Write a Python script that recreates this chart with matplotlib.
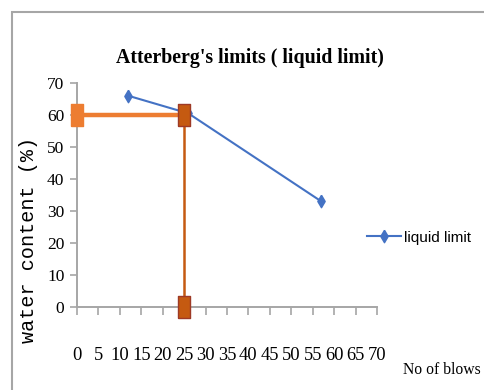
import matplotlib.pyplot as plt
from matplotlib.patches import Rectangle

# liquid limit test points (blows, water content %)
blows = [12, 26, 57]
water = [66, 60.5, 33]

# 25-blow reading
ll_blows = 25
ll_water = 60

xticks = list(range(0, 75, 5))
yticks = list(range(0, 80, 10))

# tall markers (the chart is drawn narrow)
tall_square = [(-1, -1.85), (1, -1.85), (1, 1.85), (-1, 1.85), (-1, -1.85)]
tall_diamond = [(0, 1.7), (1, 0), (0, -1.7), (-1, 0), (0, 1.7)]

fig = plt.figure(figsize=(4.84, 3.90), dpi=100)
ax = fig.add_axes([0.159, 0.2128, 0.62, 0.5744])

# outer frame
fig.patches.append(Rectangle((12 / 484, -0.05), 1.2, 1 - 12 / 390 + 0.05,
                             transform=fig.transFigure, fill=False,
                             edgecolor='#A6A6A6', linewidth=1.5))

ax.plot(blows, water, color='#4472C4', linewidth=1.5, marker=tall_diamond,
        markersize=9, label='liquid limit', zorder=3)

# horizontal and vertical guide lines at 25 blows
ax.plot([0, ll_blows], [ll_water, ll_water], color='#ED7D31', linewidth=3.2,
        zorder=2)
ax.plot([0], [ll_water], marker=tall_square, markersize=16.5, color='#ED7D31',
        linestyle='none', clip_on=False, zorder=4)
ax.plot([ll_blows, ll_blows], [ll_water, 0], color='#C55A11', linewidth=1.8,
        zorder=2)
ax.plot([ll_blows, ll_blows], [ll_water, 0], linestyle='none',
        marker=tall_square, markersize=16.5, markerfacecolor='#C55A11',
        markeredgecolor='#9E3A26', markeredgewidth=1.0, clip_on=False,
        zorder=4)

ax.set_xlim(0, 70)
ax.set_ylim(0, 70)
ax.set_xticks(xticks)
ax.set_yticks(yticks)

for s in ['top', 'right']:
    ax.spines[s].set_visible(False)
for s in ['left', 'bottom']:
    ax.spines[s].set_color('#A6A6A6')
    ax.spines[s].set_linewidth(1.4)

ax.tick_params(axis='x', direction='out', length=5.8, width=1.2,
               color='#A6A6A6', pad=23)
ax.tick_params(axis='y', direction='out', length=5, width=1.2,
               color='#A6A6A6', pad=4)
for lab in ax.get_xticklabels():
    lab.set_fontfamily('Liberation Serif')
    lab.set_fontsize(13.3)
for lab in ax.get_yticklabels():
    lab.set_fontfamily('Liberation Serif')
    lab.set_fontsize(12.5)

ax.set_ylabel('water content (%)', family='Liberation Mono', fontsize=14.5)
ax.yaxis.set_label_coords(-0.13, 0.30)

fig.text(0.517, 0.851, "Atterberg's limits ( liquid limit)",
         family='Liberation Serif', fontweight='bold', fontsize=14.3,
         ha='center', va='center')
fig.text(0.833, 0.051, 'No of blows', family='Liberation Serif', fontsize=11.3,
         ha='left', va='center')

ax.legend(loc='center left', bbox_to_anchor=(0.967, 0.31), frameon=False,
          prop={'family': 'Liberation Sans', 'size': 11},
          borderpad=0, borderaxespad=0,
          handlelength=2.2, handletextpad=0.2)

fig.savefig('out.png', dpi=100)
